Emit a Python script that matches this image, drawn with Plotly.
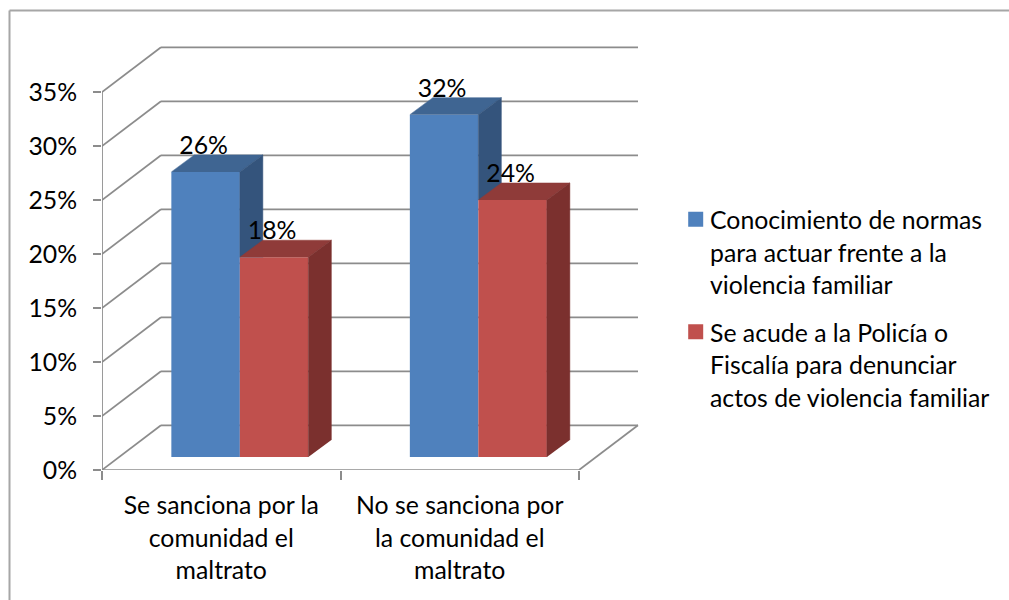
import plotly.graph_objects as go

categories = ["Se sanciona por la<br>comunidad el<br>maltrato", "No se sanciona por<br>la comunidad el<br>maltrato"]
series_names = ["Conocimiento de normas<br>para actuar frente a la<br>violencia familiar",
                "Se acude a la Policía o<br>Fiscalía para denunciar<br>actos de violencia familiar"]
blue_values = [0.264, 0.317]
red_values = [0.185, 0.238]
y_ticks = [0, 0.05, 0.10, 0.15, 0.20, 0.25, 0.30, 0.35]

FONT = "Lato"
TXT = 24.8
LINE = 25
INK = "#000000"
GRID = "#8c8c8c"
BLUE, BLUE_TOP, BLUE_SIDE = "#4F81BD", "#3F6592", "#34547C"
RED, RED_TOP, RED_SIDE = "#C0504D", "#8F3B39", "#7B302E"

# pixel geometry of the plot
PX_L, PX_R, PX_T, PX_B = 102, 645, 40, 470
PX_PER_CAT = 238.5
PX_PER_UNIT = 1080
x_max = (PX_R - PX_L) / PX_PER_CAT
y_max = (PX_B - PX_T) / PX_PER_UNIT
wall_dx, wall_dy = 59 / PX_PER_CAT, 44.7 / PX_PER_UNIT
bar_dx, bar_dy = 23 / PX_PER_CAT, 17 / PX_PER_UNIT
bar_w = 68.5 / PX_PER_CAT
bar_base = 13 / PX_PER_UNIT
group_shift = 0.578


def span(text):
    return "<br>".join(f'<span style="font-size:{TXT}px">{t}</span>' for t in text.split("<br>"))


fig = go.Figure()
n_cat = len(categories)
x_blue = [i + group_shift - bar_w / 2 for i in range(n_cat)]
x_red = [i + group_shift + bar_w / 2 for i in range(n_cat)]

for xs, vals, col in ((x_blue, blue_values, BLUE), (x_red, red_values, RED)):
    fig.add_trace(go.Bar(x=xs, y=vals, base=[bar_base] * n_cat, width=bar_w, marker=dict(color=col, line=dict(width=0)),
                         showlegend=False, hoverinfo="y"))


def poly(pts, col):
    fig.add_trace(go.Scatter(x=[p[0] for p in pts], y=[p[1] for p in pts], mode="lines", fill="toself",
                             fillcolor=col, line=dict(color=col, width=0.5), showlegend=False, hoverinfo="skip"))


for i in range(n_cat):
    xl, xm, xr = x_blue[i] - bar_w / 2, x_blue[i] + bar_w / 2, x_red[i] + bar_w / 2
    tb, tr = bar_base + blue_values[i], bar_base + red_values[i]
    # blue: top and the part of the side not hidden by the red bar
    poly([(xl, tb), (xl + bar_dx, tb + bar_dy), (xm + bar_dx, tb + bar_dy), (xm, tb)], BLUE_TOP)
    poly([(xm, tr), (xm, tb), (xm + bar_dx, tb + bar_dy), (xm + bar_dx, tr)], BLUE_SIDE)
    # red: top and side
    poly([(xm, tr), (xm + bar_dx, tr + bar_dy), (xr + bar_dx, tr + bar_dy), (xr, tr)], RED_TOP)
    poly([(xr, bar_base), (xr, tr), (xr + bar_dx, tr + bar_dy), (xr + bar_dx, bar_base + bar_dy)], RED_SIDE)

# data labels
lab_x = [x - 2 / PX_PER_CAT for x in x_blue + x_red]
lab_v = blue_values + red_values
fig.add_trace(go.Scatter(x=lab_x, y=[v + bar_base + 24 / PX_PER_UNIT for v in lab_v], mode="text",
                         text=[f"{v:.0%}" for v in lab_v], textposition="middle center",
                         textfont=dict(family=FONT, size=TXT, color=INK), showlegend=False, hoverinfo="skip"))

# legend entries
for name, col, grp in zip(series_names, (BLUE, RED), ("a", "b")):
    fig.add_trace(go.Scatter(x=[None], y=[None], mode="markers", name=span(name), legendgroup=grp,
                             marker=dict(symbol="square", size=15, color=col, line=dict(width=0),
                                         angle=90, standoff=5.7)))

# walls and floor
shapes = []


def seg(x0, y0, x1, y1, col=GRID, w=1.75, xref="x", yref="y"):
    shapes.append(dict(type="line", x0=x0, y0=y0, x1=x1, y1=y1, xref=xref, yref=yref, layer="below",
                       line=dict(color=col, width=w)))


for t in y_ticks:
    seg(0, t, wall_dx, t + wall_dy)
    seg(wall_dx, t + wall_dy, n_cat + wall_dx, t + wall_dy)
seg(0, 0, 0, y_ticks[-1])
seg(0, 0, n_cat, 0)
seg(n_cat, 0, n_cat + wall_dx, wall_dy)

# outer frame: left and top edges only


def px(v):
    return (v - PX_L) / (PX_R - PX_L)


def py(v):
    return (PX_B - v) / (PX_B - PX_T)


seg(px(9.5), py(600), px(9.5), py(10.5), col="#a6a6a6", w=2, xref="paper", yref="paper")
seg(px(9.5), py(10.5), px(1009), py(10.5), col="#a6a6a6", w=2, xref="paper", yref="paper")

fig.update_layout(
    width=1009, height=600, margin=dict(l=PX_L, r=1009 - PX_R, t=PX_T, b=600 - PX_B, pad=0),
    paper_bgcolor="white", plot_bgcolor="white", barmode="overlay", shapes=shapes,
    font=dict(family=FONT, size=TXT, color=INK),
    xaxis=dict(range=[0, x_max], tickmode="array", tickvals=[i + 0.5 for i in range(n_cat)],
               ticktext=[span(c) for c in categories], tickangle=0, ticks="", showgrid=False, zeroline=False,
               showline=False, tickfont=dict(family=FONT, size=LINE, color=INK), ticklabelstandoff=18,
               minor=dict(tickmode="array", tickvals=list(range(n_cat + 1)), ticks="outside", ticklen=9,
                          tickwidth=1.5, tickcolor=GRID, showgrid=False)),
    yaxis=dict(range=[0, y_max], tickmode="array", tickvals=y_ticks, tickformat=".0%", ticks="outside", ticklen=8,
               tickwidth=1.5, tickcolor=GRID, showgrid=False, zeroline=False, showline=False,
               tickfont=dict(family=FONT, size=TXT, color=INK), ticklabelstandoff=11),
    legend=dict(x=(670 - PX_L) / (PX_R - PX_L), y=py(196.5), xanchor="left", yanchor="top", tracegroupgap=12,
                valign="top", font=dict(family=FONT, size=LINE, color=INK), bgcolor="rgba(0,0,0,0)",
                itemclick=False, itemdoubleclick=False),
    hovermode="closest",
)

fig.write_html("out.html", post_script="document.body.style.margin='0';", config={"displayModeBar": False})
